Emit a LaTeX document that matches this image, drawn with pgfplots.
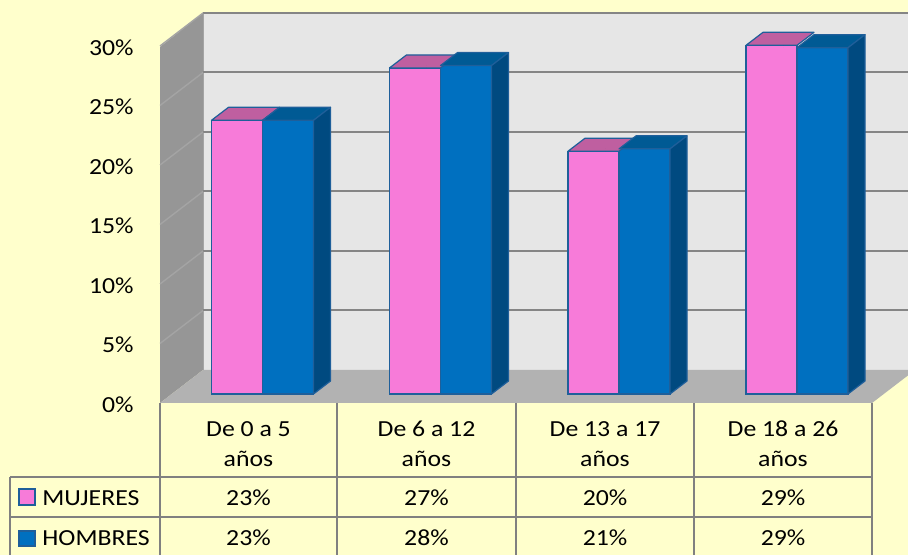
\documentclass[border=0pt]{standalone}
\usepackage{pgfplots}
\pgfplotsset{compat=1.18}
\usepackage{pgfplotstable}
\usepackage{fontspec}
\setmainfont{Carlito}[FakeStretch=1.12]
\definecolor{bg}{HTML}{FFFFCC}
\definecolor{wallback}{HTML}{E6E6E6}
\definecolor{wallleft}{HTML}{969696}
\definecolor{floorc}{HTML}{B2B2B2}
\definecolor{gridc}{HTML}{858585}
\definecolor{lgrid}{HTML}{A4A4A4}
\definecolor{tabc}{HTML}{808080}
\definecolor{pinkf}{HTML}{F77BD9}
\definecolor{pinktop}{HTML}{BF5FA0}
\definecolor{bluef}{HTML}{0070C0}
\definecolor{bluetop}{HTML}{005A94}
\definecolor{blueside}{HTML}{004A80}
\definecolor{edge}{HTML}{1F5F9A}

\pgfplotstableread{
x mu ho
248.5 23.0 23.0
426.5 27.4 27.6
605 20.4 20.6
783 29.3 29.1
}\datatable

\pgfplotsset{
  pinkbox/.style={scatter, only marks, mark=*, mark size=0pt,
    mark options={draw=none,fill=none},
    scatter/@pre marker code/.code={%
      \filldraw[fill=pinktop, draw=edge, line width=0.6pt, line join=round]
        (-18.5pt,0pt) -- (7pt,0pt) -- (15.5pt,6.5pt) -- (-10pt,6.5pt) -- cycle;},
    scatter/@post marker code/.code={}},
  bluebox/.style={scatter, only marks, mark=*, mark size=0pt,
    mark options={draw=none,fill=none},
    visualization depends on={\thisrow{ho} \as \rawh},
    scatter/@pre marker code/.code={%
      \filldraw[fill=bluetop, draw=edge, line width=0.6pt, line join=round]
        (7pt,0pt) -- (32.5pt,0pt) -- (41pt,6.5pt) -- (15.5pt,6.5pt) -- cycle;
      \filldraw[fill=blueside, draw=edge, line width=0.6pt, line join=round]
        (32.5pt,0pt) -- (41pt,6.5pt) -- (41pt,{6.5pt-\rawh*5.95pt}) -- (32.5pt,{-\rawh*5.95pt}) -- cycle;},
    scatter/@post marker code/.code={}},
}

\begin{document}
\begin{tikzpicture}[font=\fontsize{11.5pt}{13.8pt}\selectfont]
\begin{scope}[x=0.5pt,y=-0.5pt,shift={(0pt,277.5pt)}]
  \fill[bg] (0,0) rectangle (908,555);
  \fill[wallback] (203,13) rectangle (908,370);
  \fill[wallleft] (160,47) -- (203,13) -- (203,370) -- (160,403) -- cycle;
  \fill[floorc] (160,403) -- (872,403) -- (908,375.4) -- (908,370) -- (203,370) -- cycle;
  \draw[lgrid, line width=0.5pt] (203,13) -- (203,370);
  \foreach \k in {1,...,6}{
    \draw[gridc, line width=1pt] (203,{370-59.5*\k}) -- (908,{370-59.5*\k});
    \draw[lgrid, line width=0.7pt] (160,{403-59.5*\k}) -- (203,{370-59.5*\k});
  }
\end{scope}

\begin{axis}[at={(0pt,0pt)}, anchor=south west, scale only axis,
  width=454pt, height=277.5pt,
  xmin=0, xmax=908, ymin=-13.5294, ymax=33.1092,
  clip=false, axis line style={draw=none}, tick style={draw=none},
  major tick length=0pt,
  xtick=\empty,
  ytick={0,5,10,15,20,25,30},
  yticklabels={0\%,5\%,10\%,15\%,20\%,25\%,30\%},
  yticklabel style={anchor=base east, inner sep=0pt, xshift=67pt, yshift=-9.25pt,
    font=\fontsize{11.5pt}{13.8pt}\selectfont},
]
\addplot[ybar, bar width=25.5pt, bar shift=-5.75pt, fill=pinkf, draw=edge, line width=0.6pt]
  table[x=x, y=mu] \datatable;
\addplot[pinkbox] table[x=x, y=mu] \datatable;
\addplot[ybar, bar width=25.5pt, bar shift=19.75pt, fill=bluef, draw=edge, line width=0.6pt]
  table[x=x, y=ho] \datatable;
\addplot[bluebox] table[x=x, y=ho] \datatable;
\end{axis}

\begin{scope}[x=0.5pt,y=-0.5pt,shift={(0pt,277.5pt)}]
  \draw[tabc, line width=1pt] (10,477) -- (872,477);
  \draw[tabc, line width=1pt] (10,517) -- (872,517);
  \draw[tabc, line width=1pt] (10,477) -- (10,560);
  \foreach \xx in {160,337,516,694,872}{
    \draw[tabc, line width=1pt] (\xx,403) -- (\xx,560);
  }
  \foreach \xx/\ta in {248.5/De 0 a 5, 426.5/De 6 a 12, 605/De 13 a 17, 783/De 18 a 26}{
    \node[anchor=base, inner sep=0pt] at (\xx,437) {\ta};
    \node[anchor=base, inner sep=0pt] at (\xx,467) {años};
  }
  \foreach \xx/\va/\vb in {248.5/23/23, 426.5/27/28, 605/20/21, 783/29/29}{
    \node[anchor=base, inner sep=0pt] at (\xx,506) {\va\%};
    \node[anchor=base, inner sep=0pt] at (\xx,546) {\vb\%};
  }
  \filldraw[fill=pinkf, draw=edge, line width=0.9pt] (19,489) rectangle (35,505);
  \filldraw[fill=bluef, draw=edge, line width=0.9pt] (19,531) rectangle (35,546);
  \node[anchor=base west, inner sep=0pt] at (42,506) {MUJERES};
  \node[anchor=base west, inner sep=0pt] at (42,546) {HOMBRES};
\end{scope}
\pgfresetboundingbox
\path[use as bounding box] (0pt,0pt) rectangle (454pt,277.5pt);
\end{tikzpicture}
\end{document}
